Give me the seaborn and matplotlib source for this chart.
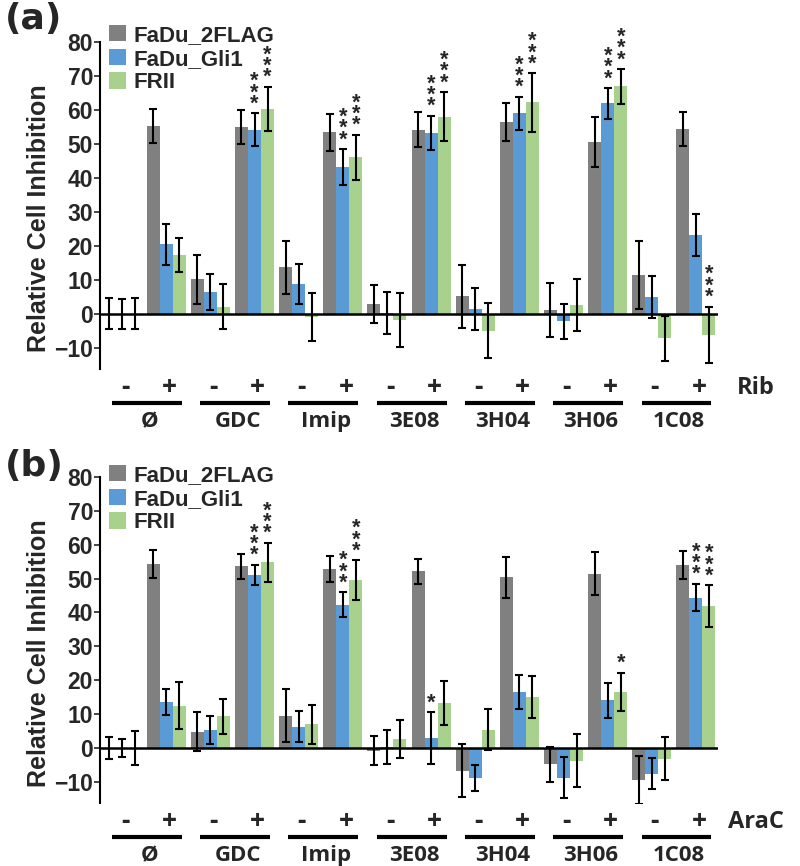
import numpy as np
import pandas as pd
import matplotlib
matplotlib.use("Agg")
import matplotlib.pyplot as plt
import matplotlib.transforms as mtransforms
import seaborn as sns

sns.set_style("white")
plt.rcParams["font.family"] = ["Liberation Sans", "DejaVu Sans"]

compounds = ["Ø", "GDC", "Imip", "3E08", "3H04", "3H06", "1C08"]
signs = ["-", "+"]
series = ["FaDu_2FLAG", "FaDu_Gli1", "FRII"]
colors = ["#808080", "#5B9BD5", "#A9D18E"]
yticks = [-10, 0, 10, 20, 30, 40, 50, 60, 70, 80]

# panel (a) - Rib ; order: O-, O+, GDC-, GDC+, Imip-, Imip+, 3E08-, 3E08+, 3H04-, 3H04+, 3H06-, 3H06+, 1C08-, 1C08+
flag_a = [0, 55.2, 10.1, 55.0, 13.6, 53.4, 2.8, 54.2, 5.1, 56.5, 1.0, 50.5, 11.3, 54.4]
flag_a_err = [4.6, 5.0, 7.2, 5.0, 7.7, 5.4, 5.5, 5.2, 9.3, 5.6, 7.9, 7.3, 10.0, 5.0]
gli_a = [0, 20.4, 6.4, 54.2, 8.7, 43.2, 0.3, 53.3, 1.5, 59.0, -2.3, 61.9, 4.9, 23.2]
gli_a_err = [4.4, 6.0, 5.4, 4.8, 6.0, 5.3, 6.2, 5.0, 6.2, 4.9, 5.2, 4.6, 6.3, 6.1]
frii_a = [0, 17.3, 2.0, 60.3, -1.0, 46.1, -1.8, 58.0, -5.0, 62.2, 2.5, 66.9, -7.2, -6.2]
frii_a_err = [4.5, 4.9, 6.6, 6.5, 7.1, 6.6, 7.9, 7.3, 8.0, 8.6, 7.7, 5.1, 6.6, 8.3]
# (series index, bar index, number of stars)
stars_a = [(1, 3, 3), (2, 3, 3), (1, 5, 3), (2, 5, 3), (1, 7, 3), (2, 7, 3),
           (1, 9, 3), (2, 9, 3), (1, 11, 3), (2, 11, 3), (2, 13, 3)]

# panel (b) - AraC
flag_b = [0, 54.3, 4.8, 53.6, 9.5, 52.8, -0.8, 52.1, -6.7, 50.4, -4.9, 51.4, -9.5, 53.9]
flag_b_err = [3.2, 4.0, 5.8, 3.6, 7.9, 3.8, 4.4, 3.8, 7.7, 6.0, 5.1, 6.4, 7.1, 4.1]
gli_b = [0, 13.5, 5.3, 51.1, 6.3, 42.3, 0.3, 2.9, -8.8, 16.5, -8.8, 14.0, -7.6, 44.4]
gli_b_err = [2.7, 3.9, 4.1, 3.0, 4.7, 3.6, 5.1, 7.6, 3.8, 4.9, 6.0, 5.3, 4.7, 4.1]
frii_b = [0, 12.5, 9.3, 54.8, 6.9, 49.6, 2.7, 13.2, 5.4, 15.1, -3.8, 16.5, -3.2, 41.8]
frii_b_err = [5.1, 7.0, 5.2, 5.8, 5.8, 5.8, 5.6, 6.5, 6.1, 6.2, 7.9, 5.7, 6.3, 6.2]
stars_b = [(1, 3, 3), (2, 3, 3), (1, 5, 3), (2, 5, 3), (1, 7, 1), (2, 11, 1),
           (1, 13, 3), (2, 13, 3)]

lab_font = ["Open Sans", "DejaVu Sans"]


def draw_panel(ax, means, errs, stars, drug, drug_x, letter, letter_y, leg_y):
    slots = [f"{c} {s}" for c in compounds for s in signs]
    df = pd.DataFrame({
        "slot": np.tile(slots, len(series)),
        "series": np.repeat(series, len(slots)),
        "value": np.concatenate(means),
    })
    sns.barplot(data=df, x="slot", y="value", hue="series", order=slots,
                hue_order=series, palette=colors, width=0.885, saturation=1,
                errorbar=None, linewidth=0, ax=ax)
    for cont, err in zip(ax.containers, errs):
        xs = [p.get_x() + p.get_width() / 2 for p in cont.patches]
        hs = [p.get_height() for p in cont.patches]
        ax.errorbar(xs, hs, yerr=err, fmt="none", ecolor="black",
                    elinewidth=1.5, capsize=2.6, capthick=1.5, zorder=4)
    # significance stars, stacked in one column above the error bar
    for si, bi, n in stars:
        p = ax.containers[si].patches[bi]
        top = p.get_height() + errs[si][bi]
        ax.annotate("\n".join(["*"] * n),
                    xy=(p.get_x() + p.get_width() / 2, top),
                    xytext=(0, -1.0), textcoords="offset points",
                    ha="center", va="bottom", fontsize=15.5, linespacing=0.4,
                    fontweight="bold", zorder=5)

    ax.axhline(0, color="black", lw=1.8, zorder=3)
    ax.set_xlim(-0.5, 13.5)
    ax.set_ylim(-16.3, 80)
    ax.set_xticks([])
    ax.set_xlabel("")
    ax.set_yticks(yticks)
    ax.tick_params(axis="y", direction="out", length=4, width=1.2, pad=1,
                   left=True, labelsize=16.5)
    for t in ax.get_yticklabels():
        t.set_fontweight("bold")
    for s in ["top", "right", "bottom"]:
        ax.spines[s].set_visible(False)
    ax.spines["left"].set_linewidth(1.5)
    ax.spines["left"].set_color("black")
    ax.set_ylabel("Relative Cell Inhibition", fontsize=18, fontweight="bold")
    ax.yaxis.set_label_coords(-0.08, 0.46)

    handles, labels = ax.get_legend_handles_labels()
    ax.legend(handles, labels, loc="upper left", bbox_to_anchor=(0.015, leg_y),
              frameon=False, handlelength=0.75, handleheight=0.75,
              handletextpad=0.35, labelspacing=0.12, borderaxespad=0,
              borderpad=0, prop=dict(weight="bold", size=16))

    trans = mtransforms.blended_transform_factory(ax.transData, ax.transAxes)
    for k in range(len(slots)):
        ax.text(k + 0.07, -0.057, signs[k % 2], transform=trans, ha="center",
                va="center", fontsize=19, fontweight="bold", family=lab_font)
    for k, name in enumerate(compounds):
        ax.plot([2 * k - 0.23, 2 * k + 1.35], [-0.105, -0.105], transform=trans,
                color="black", lw=3, clip_on=False, solid_capstyle="butt")
        ax.text(2 * k + 0.62, -0.162, name, transform=trans, ha="center",
                va="center", fontsize=16, fontweight="bold", family=lab_font)
    ax.text(drug_x, -0.057, drug, transform=trans, ha="left", va="center",
            fontsize=17, fontweight="bold", family=lab_font)

    ax.figure.text(0.006, letter_y, letter, ha="left", va="center",
                   fontsize=26, fontweight="bold", family="DejaVu Sans")


fig = plt.figure(figsize=(8, 8.66), dpi=100)
ax_a = fig.add_axes([0.125, 0.5739, 0.7725, 0.3776])
ax_b = fig.add_axes([0.125, 0.0727, 0.7725, 0.3765])

draw_panel(ax_a, [flag_a, gli_a, frii_a], [flag_a_err, gli_a_err, frii_a_err],
           stars_a, "Rib", 13.92, "(a)", 1 - 19 / 866, 1.052)
draw_panel(ax_b, [flag_b, gli_b, frii_b], [flag_b_err, gli_b_err, frii_b_err],
           stars_b, "AraC", 13.73, "(b)", 1 - 466 / 866, 1.037)

fig.savefig("out.png", dpi=100)
plt.close(fig)
